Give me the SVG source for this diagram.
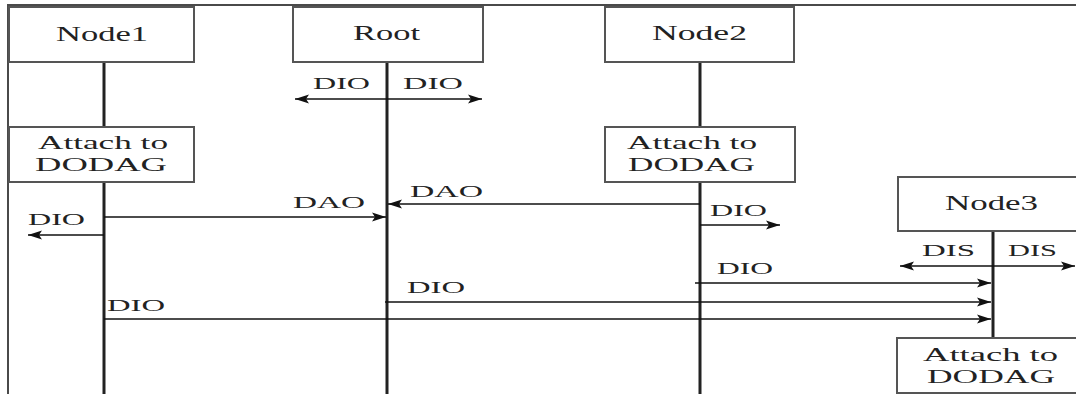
<svg xmlns="http://www.w3.org/2000/svg" width="1076" height="394" viewBox="0 0 1076 394">
<style>
.frame{stroke:#4a4a4a;stroke-width:2;fill:none}
.box{fill:#fff;stroke:#555;stroke-width:2}
.life{stroke:#222;stroke-width:3;fill:none}
.msg{stroke:#111;stroke-width:1.5;fill:none}
.arr{marker-end:url(#ah)}
.both{marker-start:url(#ahs);marker-end:url(#ah)}
text{font-family:"Liberation Serif","Times New Roman",serif;fill:#222}
.nm{font-size:20px}
.at{font-size:19px}
.lb{font-size:17px}
</style>
<defs>
<marker id="ah" markerUnits="userSpaceOnUse" markerWidth="15" markerHeight="10" refX="14" refY="5" orient="auto">
<path d="M0,0.5 L14,5 L0,9.5 L3,5 Z" fill="#111"/>
</marker>
<marker id="ahs" markerUnits="userSpaceOnUse" markerWidth="15" markerHeight="10" refX="0" refY="5" orient="auto">
<path d="M14,0.5 L0,5 L14,9.5 L11,5 Z" fill="#111"/>
</marker>
</defs>
<rect width="1076" height="394" fill="#fff"/>
<path class="frame" d="M8,394 V5 H1076"/>
<g id="lifelines">
<path class="life" d="M104,62 V127 M104,182 V394"/>
<path class="life" d="M387,62 V394"/>
<path class="life" d="M700,62 V127 M700,182 V394"/>
<path class="life" d="M993,231 V338"/>
</g>
<g id="node1">
<rect class="box" x="9" y="7" width="185" height="55"/>
<text class="nm" x="56" y="41" textLength="92" lengthAdjust="spacingAndGlyphs">Node1</text>
</g>
<g id="root">
<rect class="box" x="293" y="7" width="190" height="55"/>
<text class="nm" x="353" y="40" textLength="67" lengthAdjust="spacingAndGlyphs">Root</text>
</g>
<g id="node2">
<rect class="box" x="605" y="7" width="189" height="55"/>
<text class="nm" x="652" y="40" textLength="95" lengthAdjust="spacingAndGlyphs">Node2</text>
</g>
<g id="node3">
<rect class="box" x="898" y="177" width="190" height="54"/>
<text class="nm" x="945" y="210" textLength="93" lengthAdjust="spacingAndGlyphs">Node3</text>
</g>
<g id="attach1">
<rect class="box" x="9" y="127" width="185" height="55"/>
<text class="at" x="38" y="149" textLength="130" lengthAdjust="spacingAndGlyphs">Attach to</text>
<text class="at" x="35" y="171" textLength="132" lengthAdjust="spacingAndGlyphs">DODAG</text>
</g>
<g id="attach2">
<rect class="box" x="605" y="127" width="190" height="55"/>
<text class="at" x="627" y="149" textLength="130" lengthAdjust="spacingAndGlyphs">Attach to</text>
<text class="at" x="628" y="171" textLength="127" lengthAdjust="spacingAndGlyphs">DODAG</text>
</g>
<g id="attach3">
<rect class="box" x="897" y="338" width="190" height="55"/>
<text class="at" x="923" y="361" textLength="135" lengthAdjust="spacingAndGlyphs">Attach to</text>
<text class="at" x="927" y="383" textLength="128" lengthAdjust="spacingAndGlyphs">DODAG</text>
</g>
<g id="connectors">
<path class="msg both" d="M295,99 H482"/>
<path class="msg arr" d="M104,217 H386"/>
<path class="msg arr" d="M104,235 H28"/>
<path class="msg arr" d="M700,204 H388"/>
<path class="msg arr" d="M700,225 H780"/>
<path class="msg arr" d="M695,283 H991"/>
<path class="msg arr" d="M385,302 H991"/>
<path class="msg arr" d="M104,319 H991"/>
<path class="msg both" d="M900,266 H1075"/>
</g>
<g id="labels">
<text class="lb" x="313" y="89" textLength="57" lengthAdjust="spacingAndGlyphs">DIO</text>
<text class="lb" x="403" y="89" textLength="60" lengthAdjust="spacingAndGlyphs">DIO</text>
<text class="lb" x="293" y="208" textLength="72" lengthAdjust="spacingAndGlyphs">DAO</text>
<text class="lb" x="410" y="197" textLength="73" lengthAdjust="spacingAndGlyphs">DAO</text>
<text class="lb" x="28" y="225" textLength="57" lengthAdjust="spacingAndGlyphs">DIO</text>
<text class="lb" x="710" y="216" textLength="57" lengthAdjust="spacingAndGlyphs">DIO</text>
<text class="lb" x="717" y="274" textLength="56" lengthAdjust="spacingAndGlyphs">DIO</text>
<text class="lb" x="407" y="293" textLength="58" lengthAdjust="spacingAndGlyphs">DIO</text>
<text class="lb" x="107" y="311" textLength="58" lengthAdjust="spacingAndGlyphs">DIO</text>
<text class="lb" x="922" y="256" textLength="53" lengthAdjust="spacingAndGlyphs">DIS</text>
<text class="lb" x="1008" y="256" textLength="49" lengthAdjust="spacingAndGlyphs">DIS</text>
</g>
</svg>
